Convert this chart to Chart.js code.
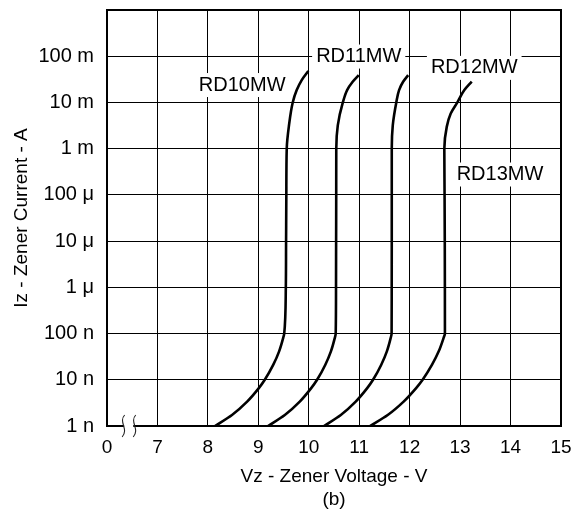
<!DOCTYPE html>
<html><head><meta charset="utf-8">
<script src="https://cdn.jsdelivr.net/npm/chart.js@4.4.1/dist/chart.umd.min.js"></script>
<style>html,body{margin:0;padding:0;background:#fff}</style>
</head><body>
<canvas id="c" width="584" height="518"></canvas>
<script>
// ---- data ----
const xTickValues = [6, 7, 8, 9, 10, 11, 12, 13, 14, 15];
const xTickLabels = ['0', '7', '8', '9', '10', '11', '12', '13', '14', '15'];
const yTickValues = [1e-9, 1e-8, 1e-7, 1e-6, 1e-5, 1e-4, 1e-3, 1e-2, 1e-1, 1];
const yTickLabels = ['1 n', '10 n', '100 n', '1 μ', '10 μ', '100 μ', '1 m', '10 m', '100 m', ''];

const rd10V = [8.141, 8.478, 8.778, 9.010, 9.128, 9.297, 9.412, 9.493, 9.513, 9.545, 9.550, 9.555, 9.563, 9.608, 9.682, 9.761, 9.860, 9.991];
const rd10I = [1e-9, 1.73e-9, 3.37e-9, 6.6e-9, 1e-8, 2.12e-8, 4.12e-8, 8.07e-8, 1e-7, 1e-6, 1e-5, 1e-4, 1e-3, 3.21e-3, 1e-2, 1.85e-2, 3.05e-2, 4.79e-2];
const rd11V = [9.192, 9.525, 9.821, 10.048, 10.165, 10.328, 10.439, 10.516, 10.534, 10.540, 10.542, 10.544, 10.545, 10.575, 10.675, 10.760, 10.870, 10.990];
const rd11I = [1e-9, 1.73e-9, 3.37e-9, 6.6e-9, 1e-8, 2.12e-8, 4.12e-8, 8.07e-8, 1e-7, 1e-6, 1e-5, 1e-4, 1e-3, 3.2e-3, 1e-2, 1.85e-2, 2.8e-2, 3.9e-2];
const rd12V = [10.302, 10.635, 10.930, 11.158, 11.274, 11.437, 11.548, 11.624, 11.642, 11.644, 11.645, 11.645, 11.645, 11.665, 11.735, 11.790, 11.870, 11.970];
const rd12I = [1e-9, 1.73e-9, 3.37e-9, 6.6e-9, 1e-8, 2.12e-8, 4.12e-8, 8.07e-8, 1e-7, 1e-6, 1e-5, 1e-4, 1e-3, 3.2e-3, 1e-2, 1.85e-2, 2.8e-2, 3.9e-2];
const rd13V = [11.214, 11.565, 11.880, 12.128, 12.257, 12.444, 12.576, 12.673, 12.699, 12.698, 12.696, 12.692, 12.687, 12.735, 12.814, 12.945, 13.084, 13.230];
const rd13I = [1e-9, 1.73e-9, 3.37e-9, 6.6e-9, 1e-8, 2.12e-8, 4.12e-8, 8.07e-8, 1e-7, 1e-6, 1e-5, 1e-4, 1e-3, 2.96e-3, 5.77e-3, 1e-2, 1.85e-2, 2.82e-2];

const labelNames = ['RD10MW', 'RD11MW', 'RD12MW', 'RD13MW'];
const labelV = [8.68, 10.99, 13.28, 13.79];
const labelI = [0.0238, 0.0984, 0.056, 2.76e-4];

const breakV = [6.32, 6.54];

// ---- build ----
const FONT = 'Liberation Sans, Arial, sans-serif';
function pts(v, i) { return v.map((x, k) => ({ x: x, y: i[k] })); }
const series = [[rd10V, rd10I], [rd11V, rd11I], [rd12V, rd12I], [rd13V, rd13I]];
const datasets = series.map((s, k) => ({
  label: labelNames[k],
  data: pts(s[0], s[1]),
  showLine: true,
  borderColor: '#000',
  borderWidth: 2.6,
  pointRadius: 0,
  cubicInterpolationMode: 'monotone',
  fill: false
}));

const decor = {
  id: 'decor',
  afterDraw(chart) {
    const ctx = chart.ctx;
    const a = chart.chartArea;
    const xs = chart.scales.x, ys = chart.scales.y;
    ctx.save();
    // frame
    ctx.strokeStyle = '#000';
    ctx.lineWidth = 2;
    ctx.strokeRect(a.left, a.top, a.right - a.left, a.bottom - a.top);
    // axis break
    const bx0 = xs.getPixelForValue(breakV[0]);
    const bx1 = xs.getPixelForValue(breakV[1]);
    const by = a.bottom;
    ctx.fillStyle = '#fff';
    ctx.fillRect(bx0 + 1, by - 2, bx1 - bx0 - 2, 4);
    ctx.strokeStyle = '#222';
    ctx.lineWidth = 1.1;
    [bx0, bx1].forEach(bx => {
      ctx.beginPath();
      ctx.moveTo(bx + 1.5, by - 11);
      ctx.bezierCurveTo(bx - 5, by - 4, bx + 6, by + 3, bx - 1, by + 11);
      ctx.stroke();
    });
    // series labels
    ctx.font = '20px ' + FONT;
    ctx.textAlign = 'center';
    ctx.textBaseline = 'middle';
    labelNames.forEach((t, k) => {
      const px = xs.getPixelForValue(labelV[k]);
      const py = ys.getPixelForValue(labelI[k]);
      const w = ctx.measureText(t).width;
      ctx.fillStyle = '#fff';
      ctx.fillRect(px - w / 2 - 4, py - 12, w + 8, 24);
      ctx.fillStyle = '#000';
      ctx.fillText(t, px, py);
    });
    ctx.restore();
  }
};

new Chart(document.getElementById('c'), {
  type: 'scatter',
  data: { datasets },
  options: {
    responsive: false,
    animation: false,
    indexAxis: 'y',
    layout: { padding: { top: 10, right: 23, left: 0, bottom: 0 } },
    plugins: { legend: { display: false }, tooltip: { enabled: false } },
    scales: {
      x: {
        type: 'linear', min: 6, max: 15,
        afterBuildTicks: s => { s.ticks = xTickValues.map(v => ({ value: v })); },
        afterFit: s => { s.height = 92; s.paddingLeft = 0; s.paddingRight = 0; },
        grid: { color: '#000', lineWidth: 1, drawTicks: false },
        border: { display: false },
        ticks: {
          color: '#000', font: { family: FONT, size: 19 }, padding: 10, maxRotation: 0, autoSkip: false,
          callback: (v, i) => xTickLabels[i]
        },
        title: {
          display: true, text: ['Vz - Zener Voltage - V', '(b)'], color: '#000',
          font: { family: FONT, size: 19, lineHeight: 1.25 }, padding: { top: 0, bottom: 6 }
        }
      },
      y: {
        type: 'logarithmic', min: 1e-9, max: 1,
        afterBuildTicks: s => { s.ticks = yTickValues.map(v => ({ value: v })); },
        afterFit: s => { s.width = 107; s.paddingTop = 0; s.paddingBottom = 0; },
        grid: { color: '#000', lineWidth: 1, drawTicks: false },
        border: { display: false },
        ticks: {
          color: '#000', font: { family: FONT, size: 20 }, padding: 13, autoSkip: false,
          callback: (v, i) => yTickLabels[i]
        },
        title: {
          display: true, text: 'Iz - Zener Current - A', color: '#000',
          font: { family: FONT, size: 19, lineHeight: 1.2 }, padding: { top: 10, bottom: 0 }
        }
      }
    }
  },
  plugins: [decor]
});
</script>
</body></html>
